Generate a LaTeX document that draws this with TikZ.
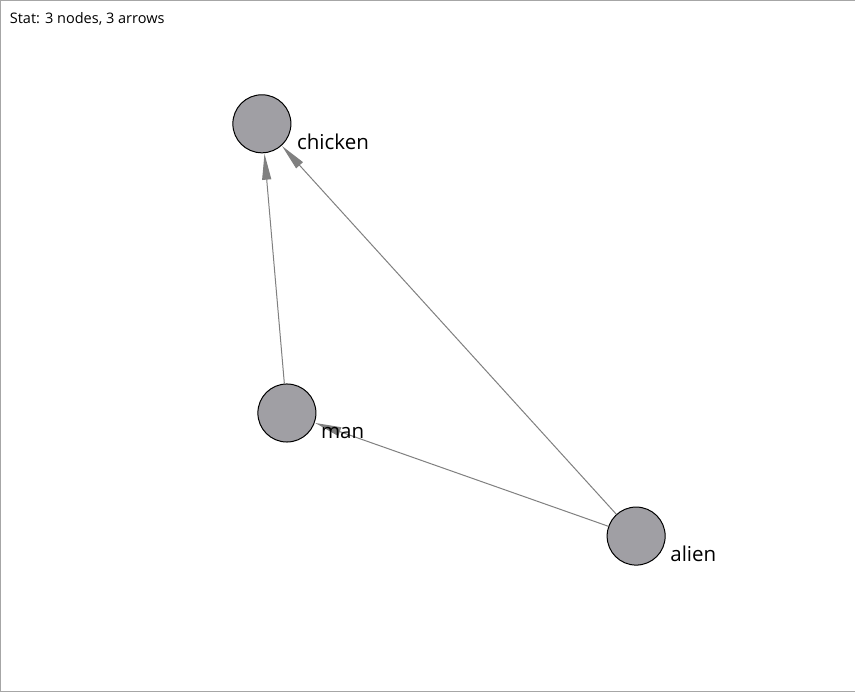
\documentclass[tikz,border=0pt]{standalone}
\usepackage{fontspec}
\setmainfont{Open Sans}
\usetikzlibrary{arrows.meta}
\definecolor{nodegray}{RGB}{160,159,164}
\definecolor{edgegray}{RGB}{128,128,128}

\begin{document}
\begin{tikzpicture} [x=1pt, y=-1pt, main/.style = {draw, line width=1pt, circle, fill=nodegray, minimum size=58pt, inner sep=0pt},
    lbl/.style = {anchor=west, font=\fontsize{20.5}{22}\selectfont, inner sep=0pt},
    edge/.style = {draw=edgegray, line width=1pt, -{Triangle[length=26pt, width=9pt]}, shorten >=0.5pt}]
        %Rahmen
        \draw[draw=gray!70, fill=white] (0.5,0.5) rectangle (854.5,691.5);
        \node[anchor=west, font=\fontsize{14.5}{16}\selectfont, inner sep=0pt] (stat) at (10,19) {Stat: 3 nodes, 3 arrows};

        %Knoten
        \node[main] (chicken) at (262,124) {};
        \node[main] (man) at (287,413) {};
        \node[main] (alien) at (636,536) {};

        %Kanten
        \draw[edge] (man) -- (chicken);
        \draw[edge] (alien) -- (chicken);
        \draw[edge] (alien) -- (man);

        \node[lbl] (chickenlbl) at (297,142) {chicken};
        \node[lbl] (manlbl) at (321,433) {man};
        \node[lbl] (alienlbl) at (670,554) {alien};
    \end{tikzpicture}
\end{document}
